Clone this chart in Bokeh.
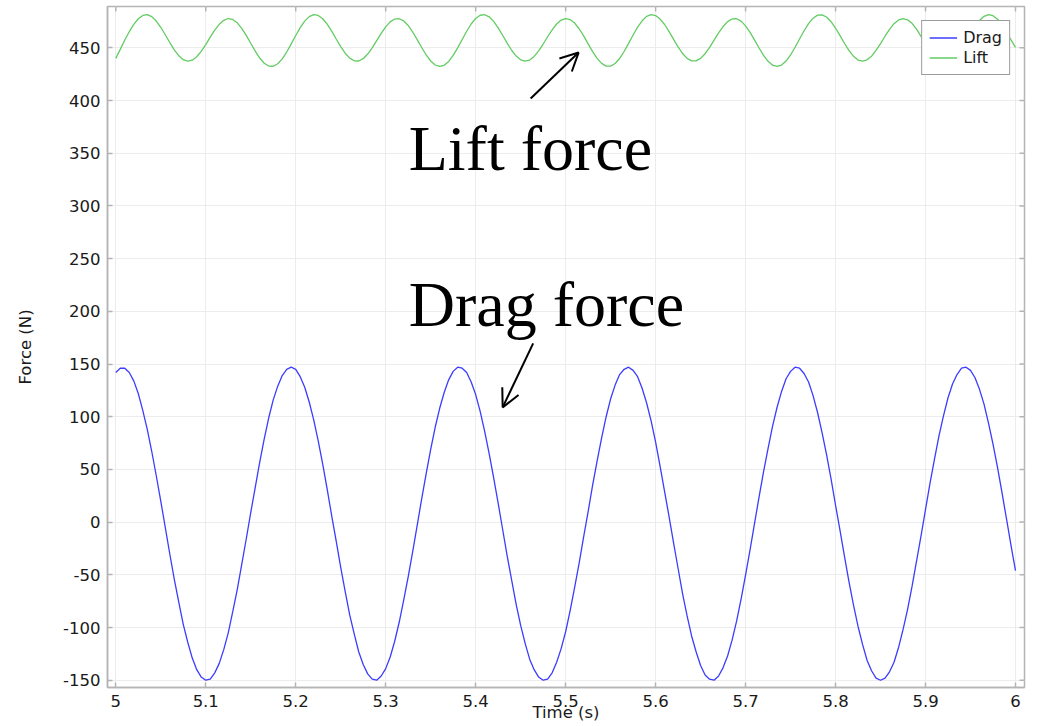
import math
from bokeh.plotting import figure
from bokeh.models import Range1d, FixedTicker, Label, Arrow, OpenHead
from bokeh.embed import file_html
from bokeh.resources import INLINE

# ---------------- data ----------------
time_s = [
    5.000, 5.005, 5.010, 5.015, 5.020, 5.025, 5.030, 5.035, 5.040, 5.045,
    5.050, 5.055, 5.060, 5.065, 5.070, 5.075, 5.080, 5.085, 5.090, 5.095,
    5.100, 5.105, 5.110, 5.115, 5.120, 5.125, 5.130, 5.135, 5.140, 5.145,
    5.150, 5.155, 5.160, 5.165, 5.170, 5.175, 5.180, 5.185, 5.190, 5.195,
    5.200, 5.205, 5.210, 5.215, 5.220, 5.225, 5.230, 5.235, 5.240, 5.245,
    5.250, 5.255, 5.260, 5.265, 5.270, 5.275, 5.280, 5.285, 5.290, 5.295,
    5.300, 5.305, 5.310, 5.315, 5.320, 5.325, 5.330, 5.335, 5.340, 5.345,
    5.350, 5.355, 5.360, 5.365, 5.370, 5.375, 5.380, 5.385, 5.390, 5.395,
    5.400, 5.405, 5.410, 5.415, 5.420, 5.425, 5.430, 5.435, 5.440, 5.445,
    5.450, 5.455, 5.460, 5.465, 5.470, 5.475, 5.480, 5.485, 5.490, 5.495,
    5.500, 5.505, 5.510, 5.515, 5.520, 5.525, 5.530, 5.535, 5.540, 5.545,
    5.550, 5.555, 5.560, 5.565, 5.570, 5.575, 5.580, 5.585, 5.590, 5.595,
    5.600, 5.605, 5.610, 5.615, 5.620, 5.625, 5.630, 5.635, 5.640, 5.645,
    5.650, 5.655, 5.660, 5.665, 5.670, 5.675, 5.680, 5.685, 5.690, 5.695,
    5.700, 5.705, 5.710, 5.715, 5.720, 5.725, 5.730, 5.735, 5.740, 5.745,
    5.750, 5.755, 5.760, 5.765, 5.770, 5.775, 5.780, 5.785, 5.790, 5.795,
    5.800, 5.805, 5.810, 5.815, 5.820, 5.825, 5.830, 5.835, 5.840, 5.845,
    5.850, 5.855, 5.860, 5.865, 5.870, 5.875, 5.880, 5.885, 5.890, 5.895,
    5.900, 5.905, 5.910, 5.915, 5.920, 5.925, 5.930, 5.935, 5.940, 5.945,
    5.950, 5.955, 5.960, 5.965, 5.970, 5.975, 5.980, 5.985, 5.990, 5.995,
    6.000,
]

drag_n = [
    142, 146, 146, 142, 134, 122, 106, 88, 67, 44,
    20, -5, -30, -54, -76, -97, -114, -129, -140, -147,
    -150, -149, -143, -134, -121, -105, -85, -64, -40, -16,
    9, 33, 57, 79, 99, 116, 129, 139, 145, 147,
    145, 138, 128, 114, 97, 77, 55, 31, 6, -18,
    -43, -66, -88, -106, -123, -135, -144, -149, -150, -146,
    -139, -128, -113, -95, -74, -52, -28, -3, 22, 46,
    69, 90, 108, 123, 135, 143, 147, 146, 142, 133,
    121, 105, 86, 65, 42, 18, -7, -32, -55, -78,
    -98, -115, -130, -140, -147, -150, -149, -143, -133, -120,
    -104, -84, -62, -39, -14, 10, 35, 58, 80, 100,
    117, 130, 140, 145, 147, 144, 138, 127, 113, 96,
    76, 53, 29, 5, -20, -44, -68, -89, -108, -123,
    -136, -145, -149, -150, -146, -138, -127, -112, -94, -73,
    -50, -26, -1, 24, 48, 70, 91, 109, 124, 136,
    143, 147, 146, 141, 133, 120, 104, 85, 64, 41,
    16, -8, -33, -57, -79, -99, -116, -131, -141, -148,
    -150, -148, -142, -133, -119, -102, -83, -61, -37, -13,
    12, 37, 60, 82, 101, 118, 131, 140, 146, 147,
    144, 137, 126, 112, 94, 74, 52, 28, 3, -22,
    -46,
]

lift_n = [
    440.0, 448.5, 457.4, 465.3, 472.2, 477.6, 480.7, 481.4, 479.6, 475.4,
    469.5, 462.4, 455.0, 448.1, 442.5, 438.7, 437.3, 438.3, 441.5, 446.7,
    453.1, 460.1, 466.8, 472.3, 476.1, 477.8, 476.9, 473.7, 468.5, 461.8,
    454.3, 446.8, 440.3, 435.4, 432.7, 432.5, 434.9, 439.5, 446.0, 453.7,
    461.7, 469.1, 475.3, 479.6, 481.4, 480.7, 477.6, 472.4, 465.8, 458.4,
    451.2, 444.9, 440.2, 437.7, 437.5, 439.7, 444.1, 450.0, 456.8, 463.7,
    469.9, 474.6, 477.3, 477.6, 475.5, 471.2, 465.0, 457.8, 450.3, 443.2,
    437.5, 433.7, 432.3, 433.4, 437.1, 442.8, 450.0, 457.9, 465.7, 472.6,
    477.9, 480.9, 481.4, 479.4, 475.1, 469.0, 461.9, 454.5, 447.7, 442.2,
    438.6, 437.3, 438.4, 441.8, 447.1, 453.6, 460.5, 467.1, 472.6, 476.3,
    477.8, 476.8, 473.5, 468.1, 461.3, 453.8, 446.4, 440.0, 435.2, 432.6,
    432.6, 435.1, 439.9, 446.5, 454.2, 462.2, 469.6, 475.6, 479.8, 481.5,
    480.6, 477.3, 472.1, 465.3, 458.0, 450.8, 444.6, 440.0, 437.6, 437.6,
    440.0, 444.4, 450.4, 457.3, 464.1, 470.2, 474.8, 477.4, 477.6, 475.3,
    470.8, 464.6, 457.3, 449.8, 442.8, 437.2, 433.5, 432.3, 433.6, 437.4,
    443.2, 450.5, 458.4, 466.2, 473.0, 478.1, 481.0, 481.3, 479.2, 474.8,
    468.6, 461.5, 454.1, 447.3, 441.9, 438.4, 437.3, 438.6, 442.1, 447.5,
    454.0, 461.0, 467.5, 472.9, 476.5, 477.8, 476.6, 473.2, 467.7, 460.8,
    453.3, 446.0, 439.6, 435.0, 432.6, 432.7, 435.3, 440.2, 446.9, 454.7,
    462.6, 470.0, 476.0, 479.9, 481.5, 480.5, 477.1, 471.7, 464.9, 457.5,
    450.4,
]

x_ticks = [5.0, 5.1, 5.2, 5.3, 5.4, 5.5, 5.6, 5.7, 5.8, 5.9, 6.0]
x_tick_labels = ["5", "5.1", "5.2", "5.3", "5.4", "5.5", "5.6", "5.7", "5.8", "5.9", "6"]
y_ticks = [-150, -100, -50, 0, 50, 100, 150, 200, 250, 300, 350, 400, 450]
y_tick_labels = ["-150", "-100", "-50", "0", "50", "100", "150", "200", "250",
                 "300", "350", "400", "450"]

series_names = ["Drag", "Lift"]
x_title = "Time (s)"
y_title = "Force (N)"
lift_note = "Lift force"
drag_note = "Drag force"

# ---------------- axis extents and annotation placement (data units) ----------------
X_START, X_END = 4.9908, 6.01
Y_START, Y_END = -156.9, 489.2
lift_note_pos = (5.3256, 354.5)
drag_note_pos = (5.3256, 206.6)
lift_arrow = (5.4611, 401.9, 5.5144, 445.5)
drag_arrow = (5.4639, 169.6, 5.4300, 108.9)

# ---------------- styles ----------------
FRAME = "#b4b4b4"
GRID = "#ececec"
TXT = "#1a1a1a"
FONT = "DejaVu Sans"
DRAG_COLOR = "#3c3cff"
LIFT_COLOR = "#62cc62"

p = figure(
    width=1033, height=725,
    x_range=Range1d(X_START, X_END), y_range=Range1d(Y_START, Y_END),
    output_backend="svg", toolbar_location=None,
    min_border_left=107, min_border_right=9, min_border_top=6, min_border_bottom=38,
)

p.outline_line_color = FRAME
p.outline_line_width = 1.5
p.background_fill_color = "white"
p.border_fill_color = "white"

xt = FixedTicker(ticks=x_ticks)
yt = FixedTicker(ticks=y_ticks)

p.xgrid.ticker = xt
p.ygrid.ticker = yt
p.xgrid.grid_line_color = GRID
p.ygrid.grid_line_color = GRID

# mirrored inward ticks on the top and right frame edges
p.ray(x=x_ticks, y=[Y_END] * len(x_ticks), length=5, length_units="screen",
      angle=-math.pi / 2, line_color=FRAME, line_width=1.5)
p.ray(x=[X_END] * len(y_ticks), y=y_ticks, length=5, length_units="screen",
      angle=math.pi, line_color=FRAME, line_width=1.5)

p.line(time_s, drag_n, line_color=DRAG_COLOR, line_width=1.3, legend_label=series_names[0])
p.line(time_s, lift_n, line_color=LIFT_COLOR, line_width=1.3, legend_label=series_names[1])

xa = p.below[0]
ya = p.left[0]
xa.ticker = xt
ya.ticker = yt
xa.major_label_overrides = dict(zip(x_ticks, x_tick_labels))
ya.major_label_overrides = dict(zip(y_ticks, y_tick_labels))
for ax in (xa, ya):
    ax.axis_line_color = FRAME
    ax.axis_line_width = 1.5
    ax.major_tick_line_color = FRAME
    ax.major_tick_line_width = 1.5
    ax.major_tick_in = 5
    ax.major_tick_out = 0
    ax.minor_tick_in = 0
    ax.minor_tick_out = 0
    ax.major_label_text_font = FONT
    ax.major_label_text_font_size = "16.5px"
    ax.major_label_text_color = TXT
    ax.major_label_standoff = 7
    ax.axis_label_text_font = FONT
    ax.axis_label_text_font_size = "16.5px"
    ax.axis_label_text_font_style = "normal"
    ax.axis_label_text_color = TXT
xa.axis_label = x_title
ya.axis_label = y_title
xa.axis_label_standoff = -7
ya.axis_label_standoff = 25

lg = p.legend[0]
lg.location = "top_right"
lg.margin = 14
lg.padding = 7
lg.spacing = 1
lg.label_height = 17
lg.glyph_height = 17
lg.glyph_width = 28
lg.label_standoff = 6
lg.label_text_font = FONT
lg.label_text_font_size = "16px"
lg.label_text_color = TXT
lg.border_line_color = "#3a3a3a"
lg.border_line_width = 1
lg.background_fill_color = "white"
lg.background_fill_alpha = 1.0

for txt, (lx, ly) in ((lift_note, lift_note_pos), (drag_note, drag_note_pos)):
    p.add_layout(Label(x=lx, y=ly, text=txt, text_font="Liberation Serif",
                       text_font_size="64px", text_color="black",
                       text_baseline="alphabetic", text_align="left"))

for (x0, y0, x1, y1) in (lift_arrow, drag_arrow):
    p.add_layout(Arrow(x_start=x0, y_start=y0, x_end=x1, y_end=y1,
                       line_color="black", line_width=2,
                       end=OpenHead(size=18, line_width=2, line_color="black")))

open("out.html", "w").write(file_html(p, INLINE))
